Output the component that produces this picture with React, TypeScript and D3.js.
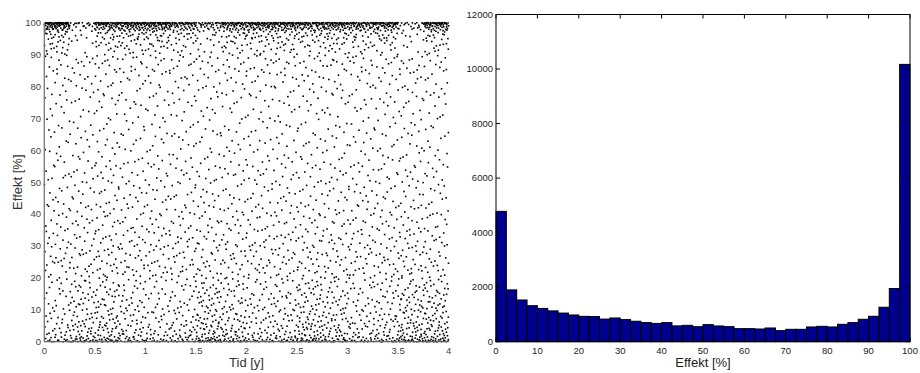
import React from "react";
import * as d3 from "d3";

// Histogram of Effekt [%]: 40 bins of 2.5 % from 0 to 100 (counts)
const histCounts = [
  4780, 1900, 1530, 1320, 1220, 1130, 1050, 980, 930, 920,
  830, 870, 810, 750, 700, 670, 700, 580, 600, 550,
  626, 577, 552, 479, 479, 466, 503, 405, 454, 454,
  540, 564, 540, 638, 700, 822, 932, 1264, 1951, 10170,
];

// Relative density over time (16 quarter-year segments)
const lowDensity = [0.8, 1.2, 1.3, 1.0, 0.8, 0.9, 1.5, 1.2, 0.9, 1.0, 1.4, 1.2, 0.9, 1.0, 1.5, 1.5];
const midDensity = [1.0, 1.0, 1.1, 1.0, 1.0, 1.0, 1.0, 1.0, 1.0, 1.0, 1.0, 1.0, 1.0, 1.0, 1.1, 1.0];
const highDensity = [1.6, 0.4, 1.3, 1.4, 1.4, 1.1, 0.7, 1.2, 1.3, 1.3, 1.2, 1.3, 1.1, 1.2, 0.4, 1.3];

const scatterXTicks = [0, 0.5, 1, 1.5, 2, 2.5, 3, 3.5, 4];
const scatterYTicks = [0, 10, 20, 30, 40, 50, 60, 70, 80, 90, 100];
const histXTicks = [0, 10, 20, 30, 40, 50, 60, 70, 80, 90, 100];
const histYTicks = [0, 2000, 4000, 6000, 8000, 10000, 12000];
const sampleEvery = 11;

function halton(i: number, b: number) {
  let f = 1, r = 0;
  while (i > 0) { f /= b; r += f * (i % b); i = Math.floor(i / b); }
  return r;
}

function invWeights(w: number[], u: number, span: number) {
  const total = d3.sum(w);
  let acc = 0;
  for (let s = 0; s < w.length; s++) {
    const p = w[s] / total;
    if (u <= acc + p || s === w.length - 1) {
      const frac = p > 0 ? (u - acc) / p : 0;
      return ((s + Math.min(1, Math.max(0, frac))) / w.length) * span;
    }
    acc += p;
  }
  return span;
}

function buildPoints() {
  const pts: { t: number; v: number }[] = [];
  let g = 1;
  histCounts.forEach((c, i) => {
    const n = Math.round(c / sampleEvery);
    for (let k = 0; k < n; k++, g++) {
      // leaped Halton sequence (deterministic quasi-random placement)
      const u1 = halton(g * 409, 2);
      const u2 = halton(g * 409, 3);
      let v: number;
      if (i === 0) v = 2.5 * Math.pow(u2, 2.2);
      else if (i === histCounts.length - 1) v = 100 - 2.5 * Math.pow(u2, 2.2);
      else v = i * 2.5 + 2.5 * u2;
      const w = v < 20 ? lowDensity : v >= 90 ? highDensity : midDensity;
      const t = invWeights(w, u1, 4);
      pts.push({ t, v });
    }
  });
  return pts;
}

const FONT = "'Liberation Sans', Arial, Helvetica, sans-serif";

export default function App() {
  const points = React.useMemo(buildPoints, []);

  // left scatter
  const sx = d3.scaleLinear().domain([0, 4]).range([44.3, 448.7]);
  const sy = d3.scaleLinear().domain([0, 100]).range([341.7, 22.7]);

  // right histogram
  const hx = d3.scaleLinear().domain([0, 100]).range([496, 910]);
  const hy = d3.scaleLinear().domain([0, 12000]).range([341.7, 14.5]);
  const binW = 100 / histCounts.length;

  return (
    <svg width={920} height={373} style={{ position: "absolute", left: 0, top: 0, background: "#fff" }} fontFamily={FONT}>
      <rect x={0} y={0} width={920} height={373} fill="#fff" />
      {/* Scatter */}
      <g>
        {points.map((p, i) => (
          <rect key={i} x={sx(p.t) - 0.8} y={sy(p.v) - 0.8} width={1.6} height={1.6} fill="#000" />
        ))}
        <line x1={sx(0)} x2={sx(0)} y1={sy(0)} y2={sy(100)} stroke="#777" strokeWidth={1.3} />
        <line x1={sx(0)} x2={sx(4)} y1={sy(0)} y2={sy(0)} stroke="#666" strokeWidth={1.3} />
        {scatterYTicks.map((t) => (
          <text key={t} x={41} y={sy(t)} dy="0.35em" textAnchor="end" fontSize={9.5} fill="#444">{t}</text>
        ))}
        {scatterXTicks.map((t) => (
          <text key={t} x={sx(t)} y={353.5} textAnchor="middle" fontSize={9.5} fill="#444">{t}</text>
        ))}
        <text x={(sx(0) + sx(4)) / 2} y={366.5} textAnchor="middle" fontSize={13} fill="#333">Tid [y]</text>
        <text transform={`translate(21.5,${(sy(0) + sy(100)) / 2}) rotate(-90)`} textAnchor="middle" fontSize={13} fill="#333">Effekt [%]</text>
      </g>
      {/* Histogram */}
      <g>
        {histCounts.map((c, i) => (
          <rect key={i} x={hx(i * binW)} y={hy(c)} width={hx((i + 1) * binW) - hx(i * binW)} height={hy(0) - hy(c)}
            fill="#000090" stroke="#000" strokeWidth={1} />
        ))}
        <rect x={hx(0)} y={hy(12000)} width={hx(100) - hx(0)} height={hy(0) - hy(12000)} fill="none" stroke="#000" strokeWidth={1} />
        {histXTicks.map((t) => (
          <g key={t}>
            <line x1={hx(t)} x2={hx(t)} y1={hy(0)} y2={hy(0) - 4} stroke="#000" />
            <line x1={hx(t)} x2={hx(t)} y1={hy(12000)} y2={hy(12000) + 4} stroke="#000" />
            <text x={hx(t)} y={353.5} textAnchor="middle" fontSize={9.5} fill="#222">{t}</text>
          </g>
        ))}
        {histYTicks.map((t) => (
          <g key={t}>
            <line x1={hx(0)} x2={hx(0) + 4} y1={hy(t)} y2={hy(t)} stroke="#000" />
            <line x1={hx(100)} x2={hx(100) - 4} y1={hy(t)} y2={hy(t)} stroke="#000" />
            <text x={493} y={hy(t)} dy="0.35em" textAnchor="end" fontSize={9.5} fill="#222">{t}</text>
          </g>
        ))}
        <text x={(hx(0) + hx(100)) / 2} y={366.5} textAnchor="middle" fontSize={13} fill="#222">Effekt [%]</text>
      </g>
    </svg>
  );
}
